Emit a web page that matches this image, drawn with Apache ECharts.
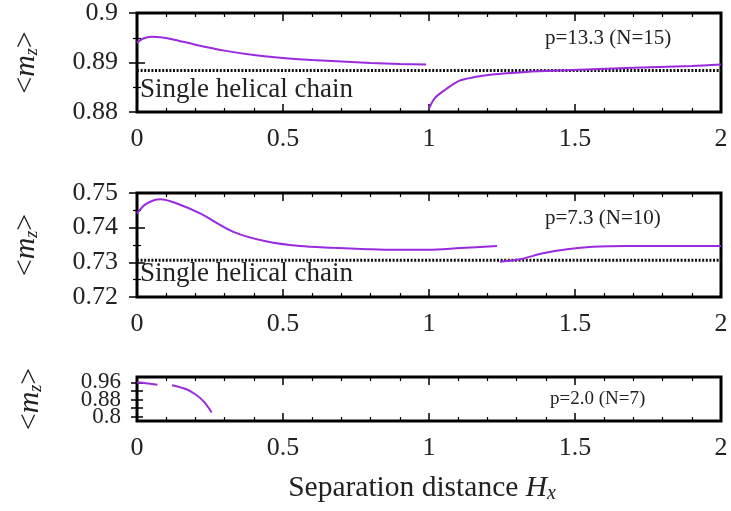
<!DOCTYPE html>
<html>
<head>
<meta charset="utf-8">
<script src="https://cdn.jsdelivr.net/npm/echarts@6/dist/echarts.min.js"></script>
<style>html,body{margin:0;padding:0;background:#fff;}#chart{width:731px;height:511px;}</style>
</head>
<body>
<div id="chart"></div>
<script>
// ---- data ----
const xTicks = [0, 0.5, 1, 1.5, 2];
const p1LeftX = [0, 0.02, 0.05, 0.08, 0.12, 0.2, 0.3, 0.4, 0.5, 0.6, 0.7, 0.8, 0.9, 0.99];
const p1LeftY = [0.8940, 0.8948, 0.8952, 0.8951, 0.8947, 0.8936, 0.8924, 0.8915, 0.8909, 0.8905, 0.8902, 0.8899, 0.8897, 0.8896];
const p1RightX = [1.0, 1.02, 1.058, 1.103, 1.161, 1.216, 1.332, 1.445, 1.675, 1.9, 2.0];
const p1RightY = [0.8807, 0.8828, 0.8846, 0.8863, 0.8871, 0.8876, 0.8881, 0.8884, 0.8889, 0.8893, 0.8896];
const p2LeftX = [0, 0.03, 0.079, 0.13, 0.216, 0.33, 0.445, 0.558, 0.671, 0.788, 0.877, 0.997, 1.106, 1.233];
const p2LeftY = [0.7441, 0.7468, 0.7482, 0.7472, 0.7441, 0.7388, 0.7360, 0.7347, 0.7342, 0.7338, 0.7336, 0.7336, 0.7341, 0.7347];
const p2RightX = [1.243, 1.312, 1.39, 1.473, 1.562, 1.678, 1.904, 2.0];
const p2RightY = [0.7302, 0.7309, 0.7326, 0.7338, 0.7345, 0.7347, 0.7347, 0.7347];
const p3aX = [0, 0.03, 0.07];
const p3aY = [0.960, 0.956, 0.9490];
const p3bX = [0.12, 0.167, 0.201, 0.229, 0.256];
const p3bY = [0.9470, 0.929, 0.9037, 0.870, 0.8197];
const helixValues = [0.8884, 0.7306];
const helixLabel = 'Single helical chain';
const panelLabels = ['p=13.3 (N=15)', 'p=7.3 (N=10)', 'p=2.0 (N=7)'];
const p3LabelOuter = [0.8, 0.96];
const p3LabelMiddle = [0.88];
const p3TickValues = [0.8, 0.84, 0.88, 0.92, 0.96];
const xName = 'Separation distance {i|H}{s|x}';
const yName = '<{i|m}{s|z}>';

// ---- style ----
const FONT = 'Liberation Serif';
const TXT = '#222';
const PURPLE = '#9a2ade';
const zip = (xs, ys) => xs.map((x, i) => [x, ys[i]]);

const grids = [
  {left: 137, right: 10, top: 12, height: 100},
  {left: 137, right: 10, top: 193, height: 104},
  {left: 137, right: 10, top: 377, height: 44}
].map(g => Object.assign(g, {show: true, borderColor: '#000', borderWidth: 3, backgroundColor: 'transparent'}));

const tickStyle = {show: true, inside: true, length: 8, lineStyle: {color: '#000', width: 1.5}};
const minorStyle = (n) => ({show: true, splitNumber: n, length: 4, lineStyle: {color: '#000', width: 1.2}});

const xAxes = [];
const yAxes = [];
const yDefs = [
  {min: 0.88, max: 0.9, interval: 0.01, minor: 2},
  {min: 0.72, max: 0.75, interval: 0.01, minor: 2},
  {min: 0.78, max: 0.985, custom: true}
];
const p3LabelStyle = (vals) => ({fontFamily: FONT, fontSize: 23, color: TXT, margin: 16,
  hideOverlap: false, customValues: vals, formatter: v => String(+(+v).toFixed(2))});

for (let g = 0; g < 3; g++) {
  const xb = {
    type: 'value', gridIndex: g, min: 0, max: 2, interval: 0.5, position: 'bottom',
    axisLine: {show: false}, splitLine: {show: false},
    axisTick: tickStyle, minorTick: minorStyle(5),
    axisLabel: {fontFamily: FONT, fontSize: 26, color: TXT, margin: 14,
      customValues: xTicks}
  };
  if (g === 2) {
    xb.name = xName;
    xb.nameLocation = 'middle';
    xb.nameGap = 51;
    xb.nameTextStyle = {fontFamily: FONT, fontSize: 29.5, color: TXT, padding: [0, 14, 0, 0],
      rich: {i: {fontFamily: FONT, fontSize: 29.5, fontStyle: 'italic', color: TXT},
             s: {fontFamily: FONT, fontSize: 20, fontStyle: 'italic', color: TXT, verticalAlign: 'bottom', padding: [12, 0, 0, 0]}}};
  }
  xAxes.push(xb);
  xAxes.push({
    type: 'value', gridIndex: g, min: 0, max: 2, interval: 0.5, position: 'top',
    axisLine: {show: false}, splitLine: {show: false},
    axisTick: tickStyle, minorTick: minorStyle(5), axisLabel: {show: false}
  });
  const d = yDefs[g];
  const yl = {
    type: 'value', gridIndex: g, min: d.min, max: d.max, position: 'left',
    axisLine: {show: false}, splitLine: {show: false},
    axisTick: Object.assign({}, tickStyle),
    axisLabel: {fontFamily: FONT, fontSize: 26, color: TXT, margin: 19},
    name: yName, nameLocation: 'middle', nameRotate: 90, nameGap: 96,
    nameTextStyle: {fontFamily: FONT, fontSize: 30, color: TXT,
      rich: {i: {fontFamily: FONT, fontSize: 30, fontStyle: 'italic', color: TXT},
             s: {fontFamily: FONT, fontSize: 18, fontStyle: 'italic', color: TXT, verticalAlign: 'bottom', padding: [10, 0, 0, 0]}}}
  };
  const yr = {
    type: 'value', gridIndex: g, min: d.min, max: d.max, position: 'right',
    axisLine: {show: false}, splitLine: {show: false},
    axisTick: Object.assign({}, tickStyle), axisLabel: {show: false}
  };
  if (d.custom) {
    yl.axisLabel = p3LabelStyle(p3LabelOuter);
    yl.axisTick = Object.assign({}, tickStyle, {length: 6, customValues: p3TickValues});
    yr.axisTick = Object.assign({}, tickStyle, {length: 6, customValues: p3TickValues});
    yl.nameGap = 92;
  } else {
    yl.interval = d.interval; yr.interval = d.interval;
    yl.minorTick = minorStyle(d.minor); yr.minorTick = minorStyle(d.minor);
  }
  yAxes.push(yl, yr);
}
// extra label-only axis for the middle label of the bottom panel
yAxes.push({
  type: 'value', gridIndex: 2, min: 0.78, max: 0.985, position: 'left',
  axisLine: {show: false}, splitLine: {show: false}, axisTick: {show: false},
  axisLabel: p3LabelStyle(p3LabelMiddle)
});

const curve = (g, data) => ({
  type: 'line', xAxisIndex: g * 2, yAxisIndex: g * 2, data: data,
  showSymbol: false, symbol: 'none', smooth: 0.3,
  lineStyle: {color: PURPLE, width: 2}, z: 5
});
const helix = (g, v) => ({
  type: 'line', xAxisIndex: g * 2, yAxisIndex: g * 2, data: [[0, v], [2, v]],
  symbol: 'none', lineStyle: {color: '#111', width: 3, type: [2, 1.6]}, z: 4
});

const series = [
  curve(0, zip(p1LeftX, p1LeftY)),
  curve(0, zip(p1RightX, p1RightY)),
  helix(0, helixValues[0]),
  curve(1, zip(p2LeftX, p2LeftY)),
  curve(1, zip(p2RightX, p2RightY)),
  helix(1, helixValues[1]),
  curve(2, zip(p3aX, p3aY)),
  curve(2, zip(p3bX, p3bY))
];

const textEl = (left, top, text, size) => ({
  type: 'text', left: left, top: top,
  style: {text: text, fontFamily: FONT, fontSize: size, fill: TXT}
});

const chart = echarts.init(document.getElementById('chart'), null, {renderer: 'canvas'});
chart.setOption({
  animation: false,
  backgroundColor: '#fff',
  grid: grids,
  xAxis: xAxes,
  yAxis: yAxes,
  series: series,
  graphic: [
    textEl(545, 28, panelLabels[0], 21),
    textEl(545, 208, panelLabels[1], 21),
    textEl(550, 390, panelLabels[2], 19),
    textEl(140, 76, helixLabel, 27),
    textEl(140, 260, helixLabel, 27)
  ]
});
</script>
</body>
</html>
